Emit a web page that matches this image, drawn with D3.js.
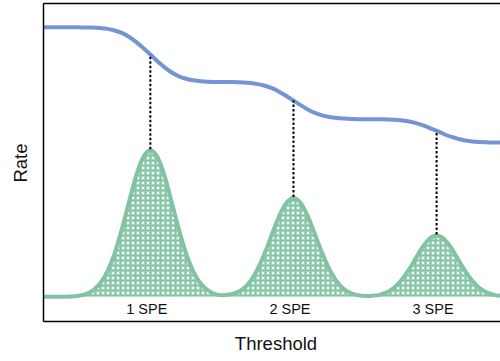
<!DOCTYPE html>
<html>
<head>
<meta charset="utf-8">
<script src="https://cdn.jsdelivr.net/npm/d3@7"></script>
<style>
  body { margin: 0; background: #fff; }
  svg text { font-family: "Liberation Sans", Arial, sans-serif; fill: #111; }
</style>
</head>
<body>
<div id="chart"></div>
<script>
// threshold samples (PE units)
const thresholds = d3.range(65).map(i => +(0.25 + i * 0.05).toFixed(2));

// pulse height spectrum
const spectrum = [
  0, 0, 0, 0.0003, 0.001, 0.004, 0.010, 0.024, 0.050, 0.094,
  0.160, 0.249, 0.350, 0.448, 0.518, 0.544, 0.518, 0.448, 0.350, 0.249,
  0.160, 0.094, 0.050, 0.025, 0.011, 0.006, 0.008, 0.015, 0.030, 0.059,
  0.103, 0.163, 0.232, 0.299, 0.348, 0.366, 0.348, 0.299, 0.232, 0.163,
  0.103, 0.059, 0.030, 0.014, 0.006, 0.003, 0.004, 0.007, 0.016, 0.032,
  0.059, 0.096, 0.139, 0.183, 0.215, 0.227, 0.215, 0.183, 0.139, 0.096,
  0.059, 0.032, 0.016, 0.007, 0.003
];

// dark count rate vs threshold
const rate = [
  1.000, 1.000, 1.000, 1.000, 1.000, 1.000, 0.999, 0.999, 0.997, 0.994,
  0.988, 0.979, 0.965, 0.946, 0.923, 0.899, 0.874, 0.851, 0.832, 0.818,
  0.809, 0.803, 0.800, 0.798, 0.797, 0.797, 0.797, 0.796, 0.795, 0.793,
  0.789, 0.783, 0.774, 0.761, 0.745, 0.728, 0.711, 0.695, 0.682, 0.673,
  0.667, 0.663, 0.661, 0.660, 0.659, 0.659, 0.659, 0.659, 0.658, 0.657,
  0.655, 0.651, 0.645, 0.637, 0.627, 0.616, 0.604, 0.594, 0.586, 0.580,
  0.576, 0.574, 0.573, 0.572, 0.572
];

const peaks = [1, 2, 3];
const peakLabels = ['1 SPE', '2 SPE', '3 SPE'];

const width = 500, height = 361;
const margin = {top: 3, right: 0, bottom: 40, left: 43};

const x = d3.scaleLinear([0.25, 3.45], [margin.left, 501]);
const y = d3.scaleLinear([-0.09, 1.09], [height - margin.bottom, margin.top]);

const blue = '#7494d3', green = '#82c3a3';

const svg = d3.select('#chart').append('svg')
  .attr('width', width)
  .attr('height', height);

// crosshatch fill
const pat = svg.append('defs').append('pattern')
  .attr('id', 'hatch')
  .attr('width', 5).attr('height', 5)
  .attr('patternUnits', 'userSpaceOnUse');
pat.append('rect').attr('width', 5).attr('height', 5).attr('fill', '#a9d6c0');
pat.append('path')
  .attr('d', 'M0,0.5H5M0.5,0V5')
  .attr('stroke', green).attr('stroke-width', 1.2).attr('fill', 'none');
pat.append('path')
  .attr('d', 'M2,2L4,4M4,2L2,4')
  .attr('stroke', '#ffffff').attr('stroke-width', 0.9).attr('fill', 'none');

const data = thresholds.map((t, i) => ({t, g: spectrum[i], r: rate[i]}));

svg.append('path')
  .datum(data)
  .attr('fill', 'url(#hatch)')
  .attr('d', d3.area().x(d => x(d.t)).y0(y(0)).y1(d => y(d.g)).curve(d3.curveMonotoneX));

svg.append('path')
  .datum(data)
  .attr('fill', 'none')
  .attr('stroke', green)
  .attr('stroke-width', 4)
  .attr('d', d3.line().x(d => x(d.t)).y(d => y(d.g)).curve(d3.curveMonotoneX));

svg.append('path')
  .datum(data)
  .attr('fill', 'none')
  .attr('stroke', blue)
  .attr('stroke-width', 4)
  .attr('d', d3.line().x(d => x(d.t)).y(d => y(d.r)).curve(d3.curveMonotoneX));

// dotted drop lines from peaks to rate curve
peaks.forEach(p => {
  const i = thresholds.indexOf(p);
  svg.append('line')
    .attr('x1', x(p)).attr('x2', x(p))
    .attr('y1', y(spectrum[i]) - 1)
    .attr('y2', y(rate[i]))
    .attr('stroke', '#000')
    .attr('stroke-width', 2)
    .attr('stroke-dasharray', '2.5,2');
});

svg.selectAll('.peak-label')
  .data(peaks)
  .enter()
  .append('text')
  .attr('class', 'peak-label')
  .attr('x', d => x(d) - 3.5)
  .attr('y', 314)
  .attr('text-anchor', 'middle')
  .style('font-size', '14.5px')
  .text((d, i) => peakLabels[i]);

// frame
svg.append('g')
  .attr('transform', `translate(${margin.left},0)`)
  .call(d3.axisLeft(y).ticks(0).tickSizeOuter(0))
  .call(g => g.select('.domain').attr('stroke-width', 1.5));
svg.append('g')
  .attr('transform', `translate(0,${height - margin.bottom})`)
  .call(d3.axisBottom(x).ticks(0).tickSizeOuter(0))
  .call(g => g.select('.domain').attr('stroke-width', 1.5));
svg.append('g')
  .attr('transform', `translate(0,${margin.top})`)
  .call(d3.axisTop(x).ticks(0).tickSizeOuter(0))
  .call(g => g.select('.domain').attr('stroke-width', 1.5));

svg.append('text')
  .attr('x', 276)
  .attr('y', 350)
  .attr('text-anchor', 'middle')
  .style('font-size', '18.5px')
  .text('Threshold');

svg.append('text')
  .attr('transform', 'translate(27,163) rotate(-90)')
  .attr('text-anchor', 'middle')
  .style('font-size', '18.5px')
  .text('Rate');
</script>
</body>
</html>
